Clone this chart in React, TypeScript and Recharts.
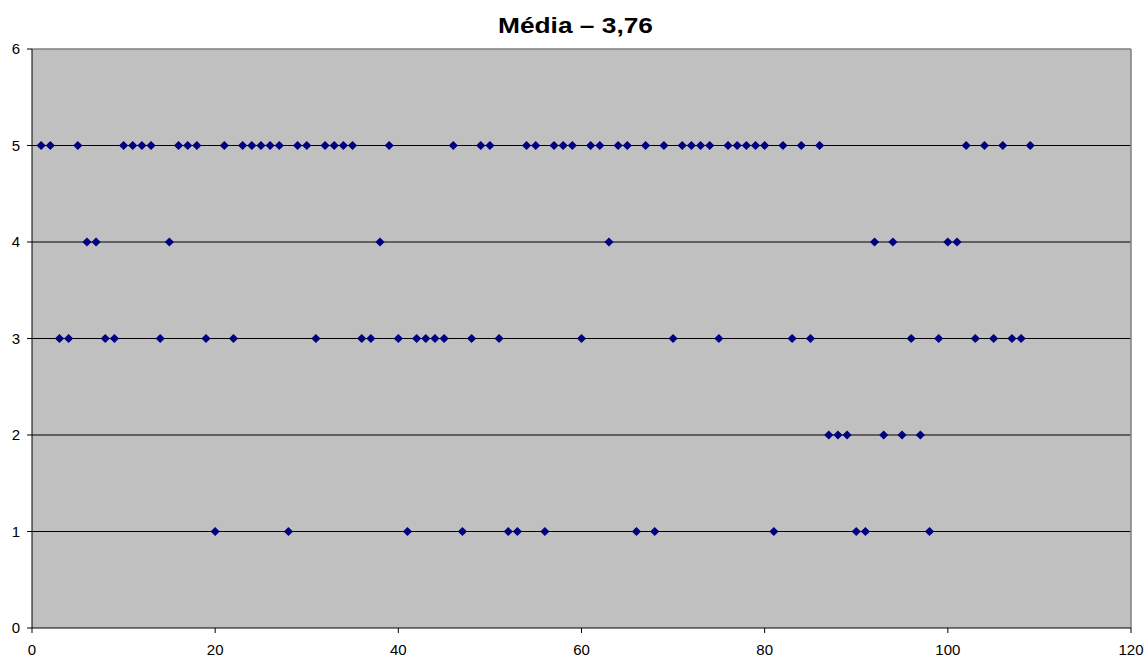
import React from 'react';
import {
  ScatterChart,
  Scatter,
  XAxis,
  YAxis,
  CartesianGrid,
  ReferenceLine,
} from 'recharts';

// nota de cada resposta, na ordem (resposta 1 ... 109)
const notas: number[] = [
  5, 5, 3, 3, 5, 4, 4, 3, 3, 5,
  5, 5, 5, 3, 4, 5, 5, 5, 3, 1,
  5, 3, 5, 5, 5, 5, 5, 1, 5, 5,
  3, 5, 5, 5, 5, 3, 3, 4, 5, 3,
  1, 3, 3, 3, 3, 5, 1, 3, 5, 5,
  3, 1, 1, 5, 5, 1, 5, 5, 5, 3,
  5, 5, 4, 5, 5, 1, 5, 1, 5, 3,
  5, 5, 5, 5, 3, 5, 5, 5, 5, 5,
  1, 5, 3, 5, 3, 5, 2, 2, 2, 1,
  1, 4, 2, 4, 2, 3, 2, 1, 3, 4,
  4, 5, 3, 5, 3, 5, 3, 3, 5,
];

const xTicks = [0, 20, 40, 60, 80, 100, 120];
const yTicks = [0, 1, 2, 3, 4, 5, 6];
const gridLevels = [1, 2, 3, 4, 5];

const titulo = 'Média – 3,76';

const pontos = notas.map((nota, i) => ({ x: i + 1, y: nota }));

const FONT = 'Arial, "Liberation Sans", sans-serif';

function Losango(props: { cx?: number; cy?: number }) {
  const { cx = 0, cy = 0 } = props;
  const r = 4.6;
  return (
    <polygon
      points={`${cx},${cy - r} ${cx + r},${cy} ${cx},${cy + r} ${cx - r},${cy}`}
      fill="#000080"
    />
  );
}

export default function App() {
  return (
    <div
      style={{
        position: 'absolute',
        left: 0,
        top: 0,
        width: 1147,
        height: 658,
        background: '#fff',
      }}
    >
      <svg
        width={1147}
        height={50}
        style={{ position: 'absolute', left: 0, top: 0 }}
      >
        <text
          x={575.5}
          y={33}
          textAnchor="middle"
          fontFamily={FONT}
          fontWeight="bold"
          fontSize={22}
          textLength={155}
          lengthAdjust="spacingAndGlyphs"
          fill="#000"
        >
          {titulo}
        </text>
      </svg>
      <ScatterChart
        width={1147}
        height={658}
        margin={{ top: 49, right: 16, bottom: 0, left: 0 }}
      >
        <CartesianGrid
          horizontal={false}
          vertical={false}
          fill="#C0C0C0"
          fillOpacity={1}
        />
        {gridLevels.map((v) => (
          <ReferenceLine key={v} y={v} stroke="#000" strokeWidth={1} />
        ))}
        <ReferenceLine y={6} stroke="#808080" strokeWidth={1.5} />
        <ReferenceLine x={120} stroke="#808080" strokeWidth={1.5} />
        <XAxis
          type="number"
          dataKey="x"
          domain={[0, 120]}
          ticks={xTicks}
          interval={0}
          height={30}
          axisLine={{ stroke: '#000' }}
          tickLine={{ stroke: '#000' }}
          tickSize={5}
          tickMargin={11}
          tick={{ fill: '#000', fontSize: 15, fontFamily: FONT }}
        />
        <YAxis
          type="number"
          dataKey="y"
          domain={[0, 6]}
          ticks={yTicks}
          interval={0}
          width={32}
          axisLine={{ stroke: '#000' }}
          tickLine={{ stroke: '#000' }}
          tickSize={5}
          tickMargin={7}
          tick={{ fill: '#000', fontSize: 15, fontFamily: FONT }}
        />
        <Scatter
          data={pontos}
          shape={<Losango />}
          isAnimationActive={false}
        />
      </ScatterChart>
    </div>
  );
}
